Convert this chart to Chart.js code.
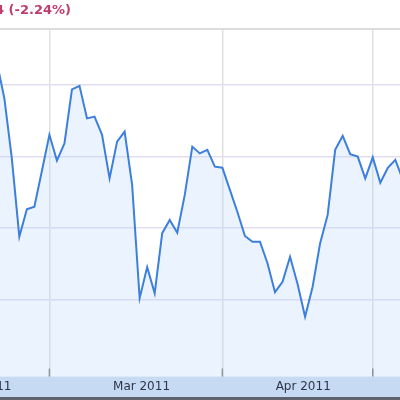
<!DOCTYPE html>
<html>
<head>
<meta charset="utf-8">
<title>Price chart</title>
<script src="https://cdn.jsdelivr.net/npm/chart.js@4"></script>
<style>
  html, body { margin: 0; padding: 0; background: #fff; }
  #wrap { position: relative; width: 400px; height: 400px; overflow: hidden; }
  #myChart { position: absolute; left: 0; top: 0; }
  #change {
    position: absolute; left: -5px; top: 3px;
    font: bold 13px 'DejaVu Sans', sans-serif; line-height: 14px;
    color: #c03c6e; white-space: nowrap;
  }
  #foot { position: absolute; left: 0; top: 397px; width: 400px; height: 3px; background: #5c636d; }
</style>
</head>
<body>
<div id="wrap">
  <canvas id="myChart" width="400" height="397"></canvas>
  <div id="change">4 (-2.24%)</div>
  <div id="foot"></div>
</div>
<script>
// trading sessions shown in the window
const days = [
  'Feb 17', 'Feb 18', 'Feb 22', 'Feb 23', 'Feb 24', 'Feb 25', 'Feb 28',
  'Mar 1', 'Mar 2', 'Mar 3', 'Mar 4', 'Mar 7', 'Mar 8', 'Mar 9', 'Mar 10', 'Mar 11',
  'Mar 14', 'Mar 15', 'Mar 16', 'Mar 17', 'Mar 18', 'Mar 21', 'Mar 22', 'Mar 23',
  'Mar 24', 'Mar 25', 'Mar 28', 'Mar 29', 'Mar 30', 'Mar 31',
  'Apr 1', 'Apr 4', 'Apr 5', 'Apr 6', 'Apr 7', 'Apr 8', 'Apr 11', 'Apr 12', 'Apr 13',
  'Apr 14', 'Apr 15', 'Apr 18', 'Apr 19', 'Apr 20', 'Apr 21', 'Apr 25', 'Apr 26',
  'Apr 27', 'Apr 28', 'Apr 29',
  'May 2', 'May 3', 'May 4', 'May 5', 'May 6'
]
const prices = [
  46.64, 45.63, 43.95, 41.75, 42.52, 42.59, 43.59,
  44.60, 43.88, 44.36, 45.87, 45.97, 45.06, 45.11, 44.60, 43.38,
  44.41, 44.69, 43.20, 40.03, 40.90, 40.17, 41.85, 42.22,
  41.86, 42.92, 44.27, 44.08, 44.18, 43.71,
  43.68, 43.06, 42.44, 41.77, 41.61, 41.61, 41.01, 40.20, 40.49,
  41.19, 40.43, 39.51, 40.35, 41.57, 42.36, 44.18, 44.57,
  44.06, 43.99, 43.38,
  43.97, 43.26, 43.68, 43.90, 43.34
]
// session index of the first trading day of Feb, Mar, Apr, May
const monthStarts = [-12, 7, 30, 50]
const monthLabels = ['Feb 2011', 'Mar 2011', 'Apr 2011']
const priceTicks = [40, 42, 44, 46]

const points = prices.map((p, i) => ({ x: i, y: p }))
const labelPos = monthLabels.map((m, i) => (monthStarts[i] + monthStarts[i + 1]) / 2 + 0.75)

const xMin = 0.43
const xMax = 53.62

// no room is kept for labels that run off the edge
const flatScale = h => scale => {
  scale.height = h
  scale.paddingLeft = 0
  scale.paddingRight = 0
}

// little dark marks at the foot of each month line
const monthMarks = {
  id: 'monthMarks',
  afterDatasetsDraw(chart) {
    const ctx = chart.ctx
    const area = chart.chartArea
    const xs = chart.scales.x
    ctx.save()
    ctx.strokeStyle = '#8d9399'
    ctx.lineWidth = 1.5
    monthStarts.forEach(v => {
      const px = xs.getPixelForValue(v)
      if (px < area.left || px > area.right) return
      ctx.beginPath()
      ctx.moveTo(px, area.bottom - 8)
      ctx.lineTo(px, area.bottom)
      ctx.stroke()
    })
    ctx.restore()
  }
}

const ctx = document.getElementById('myChart')
const myChart = new Chart(ctx, {
  type: 'line',
  data: {
    datasets: [
      {
        data: points,
        xAxisID: 'x',
        borderColor: '#3d7fdc',
        borderWidth: 2,
        backgroundColor: 'rgba(175, 212, 250, 0.25)',
        fill: 'start',
        pointRadius: 0,
        tension: 0
      }
    ]
  },
  options: {
    responsive: false,
    animation: false,
    layout: { padding: { top: 29, left: 0, right: 0, bottom: 0 } },
    plugins: {
      legend: { display: false },
      tooltip: { enabled: false }
    },
    scales: {
      x: {
        type: 'linear',
        position: 'bottom',
        min: xMin,
        max: xMax,
        afterBuildTicks: scale => {
          scale.ticks = monthStarts.map(v => ({ value: v }))
        },
        afterFit: flatScale(0),
        ticks: { display: false },
        border: { display: false },
        grid: { color: '#dde3dc', lineWidth: 1.5, drawTicks: false }
      },
      xl: {
        type: 'linear',
        position: 'bottom',
        min: xMin,
        max: xMax,
        backgroundColor: '#c6daf4',
        afterBuildTicks: scale => {
          scale.ticks = labelPos.map(v => ({ value: v }))
        },
        afterFit: flatScale(20.5),
        ticks: {
          autoSkip: false,
          maxRotation: 0,
          padding: 3,
          color: '#2f3547',
          font: { family: 'DejaVu Sans', size: 12 },
          callback: (value, index) => monthLabels[index]
        },
        border: { display: false },
        grid: { display: false, drawTicks: false }
      },
      top: {
        type: 'linear',
        position: 'top',
        min: xMin,
        max: xMax,
        afterFit: flatScale(0),
        ticks: { display: false },
        border: { display: true, color: '#dcdcdc', width: 2 },
        grid: { display: false, drawTicks: false }
      },
      y: {
        min: 37.84,
        max: 47.56,
        afterBuildTicks: scale => {
          scale.ticks = priceTicks.map(v => ({ value: v }))
        },
        afterFit: scale => {
          scale.width = 0
          scale.paddingTop = 0
          scale.paddingBottom = 0
        },
        ticks: { display: false },
        border: { display: false },
        grid: { color: '#e3ddf0', lineWidth: 1.5, drawTicks: false }
      }
    }
  },
  plugins: [monthMarks]
})
</script>
</body>
</html>
